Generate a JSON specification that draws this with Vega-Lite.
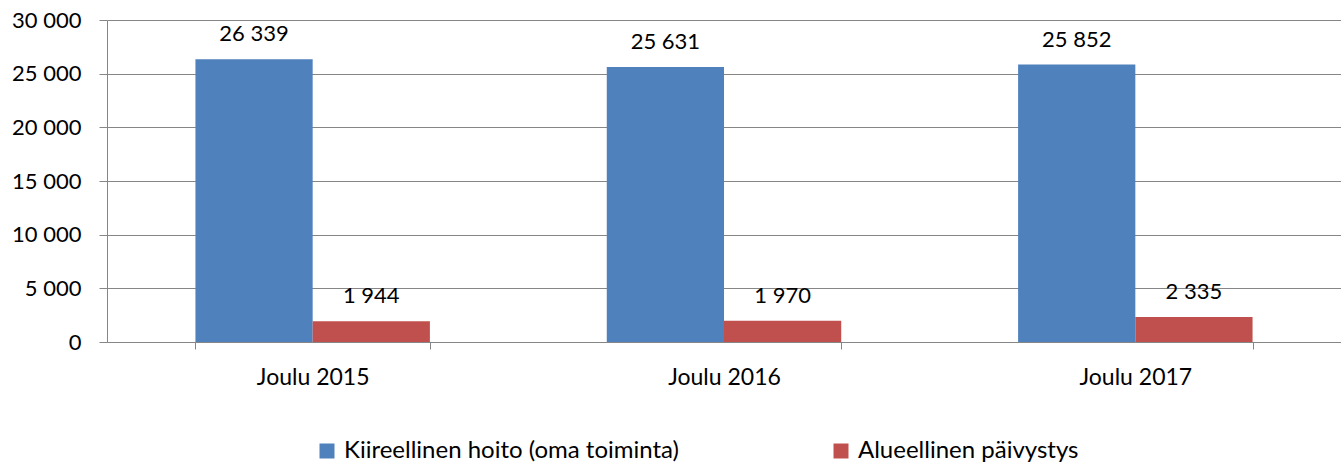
{
  "$schema": "https://vega.github.io/schema/vega-lite/v6.json",
  "width": 1234,
  "height": 322,
  "autosize": {"type": "none"},
  "padding": {"left": 107, "top": 20, "right": 0, "bottom": 126},
  "background": "white",
  "config": {
    "locale": {"number": {"decimal": ",", "thousands": " ", "grouping": [3], "currency": ["", " €"]}},
    "font": "Lato",
    "view": {"stroke": null},
    "axis": {"labelFont": "Lato", "labelFontSize": 22, "labelColor": "#000000", "domainColor": "#868686", "tickColor": "#868686", "gridColor": "#868686", "title": null}
  },
  "data": {
    "values": [
      {"period": "Joulu 2015", "series": "Kiireellinen hoito (oma toiminta)", "value": 26339},
      {"period": "Joulu 2015", "series": "Alueellinen päivystys", "value": 1944},
      {"period": "Joulu 2016", "series": "Kiireellinen hoito (oma toiminta)", "value": 25631},
      {"period": "Joulu 2016", "series": "Alueellinen päivystys", "value": 1970},
      {"period": "Joulu 2017", "series": "Kiireellinen hoito (oma toiminta)", "value": 25852},
      {"period": "Joulu 2017", "series": "Alueellinen päivystys", "value": 2335}
    ]
  },
  "encoding": {
    "x": {
      "field": "period", "type": "nominal",
      "scale": {"paddingInner": 0.43, "paddingOuter": 0.215},
      "axis": {"labelAngle": 0, "labelFontSize": 23, "tickBand": "extent", "tickSize": 7, "labelPadding": 17, "grid": false, "domainColor": "#868686"}
    },
    "xOffset": {"field": "series", "type": "nominal", "sort": ["Kiireellinen hoito (oma toiminta)", "Alueellinen päivystys"], "scale": {"paddingInner": 0, "paddingOuter": 0}},
    "y": {
      "field": "value", "type": "quantitative",
      "scale": {"domain": [0, 30000], "nice": false},
      "axis": {"values": [0, 5000, 10000, 15000, 20000, 25000, 30000], "format": ",d", "tickSize": 8, "labelPadding": 18, "grid": true, "gridWidth": 1, "domain": true}
    }
  },
  "layer": [
    {
      "mark": {"type": "bar"},
      "encoding": {
        "color": {
          "field": "series", "type": "nominal",
          "sort": ["Kiireellinen hoito (oma toiminta)", "Alueellinen päivystys"],
          "scale": {"domain": ["Kiireellinen hoito (oma toiminta)", "Alueellinen päivystys"], "range": ["#4F81BD", "#C0504D"]},
          "legend": {
            "title": null, "orient": "none", "direction": "horizontal",
            "legendX": 208, "legendY": 419,
            "symbolType": "square", "symbolSize": 225, "symbolStrokeWidth": 0,
            "labelFont": "Lato", "labelFontSize": 24, "labelColor": "#000000", "labelLimit": 600,
            "labelOffset": 5, "columnPadding": 149
          }
        }
      }
    },
    {
      "mark": {"type": "text", "baseline": "bottom", "dy": -13, "fontSize": 22, "font": "Lato", "color": "#000000"},
      "encoding": {
        "text": {"field": "value", "type": "quantitative", "format": ",d"}
      }
    }
  ]
}
